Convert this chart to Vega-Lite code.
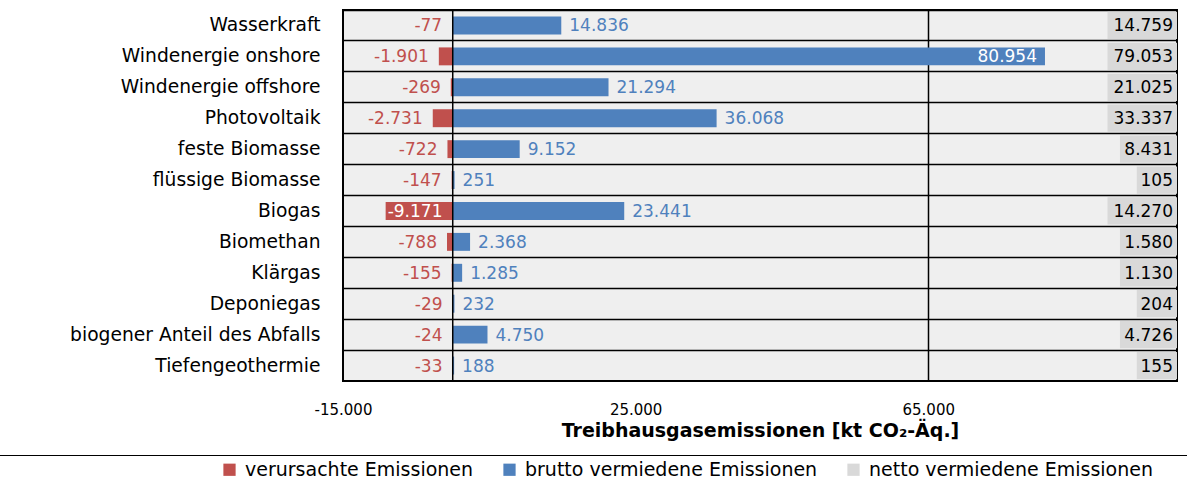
{
  "$schema": "https://vega.github.io/schema/vega-lite/v6.json",
  "autosize": "none",
  "width": 834,
  "height": 371,
  "padding": {"left": 343, "top": 10, "right": 10, "bottom": 101},
  "background": "white",
  "config": {
    "locale": {"number": {"decimal": ",", "thousands": ".", "grouping": [3], "currency": ["", " €"], "minus": "-"}},
    "view": {"stroke": "#000", "strokeWidth": 2, "fill": "#efefef"},
    "font": "DejaVu Sans",
    "legend": {
      "orient": "none",
      "legendX": -348,
      "legendY": 445,
      "direction": "horizontal",
      "titleOrient": "left",
      "titleOpacity": 0,
      "titleFontSize": 11,
      "titlePadding": 215,
      "padding": 5,
      "strokeColor": "#000",
      "symbolType": "square",
      "symbolSize": 150,
      "symbolStrokeWidth": 0,
      "labelFont": "DejaVu Sans",
      "labelFontSize": 19,
      "labelColor": "#000",
      "labelOffset": 6,
      "labelLimit": 600,
      "columnPadding": 26
    }
  },
  "data": {
    "values": [
      {"cat": "Wasserkraft", "verursacht": -77, "brutto": 14836, "netto": 14759},
      {"cat": "Windenergie onshore", "verursacht": -1901, "brutto": 80954, "netto": 79053},
      {"cat": "Windenergie offshore", "verursacht": -269, "brutto": 21294, "netto": 21025},
      {"cat": "Photovoltaik", "verursacht": -2731, "brutto": 36068, "netto": 33337},
      {"cat": "feste Biomasse", "verursacht": -722, "brutto": 9152, "netto": 8431},
      {"cat": "flüssige Biomasse", "verursacht": -147, "brutto": 251, "netto": 105},
      {"cat": "Biogas", "verursacht": -9171, "brutto": 23441, "netto": 14270},
      {"cat": "Biomethan", "verursacht": -788, "brutto": 2368, "netto": 1580},
      {"cat": "Klärgas", "verursacht": -155, "brutto": 1285, "netto": 1130},
      {"cat": "Deponiegas", "verursacht": -29, "brutto": 232, "netto": 204},
      {"cat": "biogener Anteil des Abfalls", "verursacht": -24, "brutto": 4750, "netto": 4726},
      {"cat": "Tiefengeothermie", "verursacht": -33, "brutto": 188, "netto": 155}
    ]
  },
  "layer": [
    {
      "transform": [{"filter": "datum.netto >= 10000"}],
      "mark": {"type": "bar", "height": {"band": 0.88}},
      "encoding": {
        "y": {"field": "cat", "type": "nominal", "sort": null,
          "scale": {"domain": ["Wasserkraft", "Windenergie onshore", "Windenergie offshore", "Photovoltaik", "feste Biomasse", "flüssige Biomasse", "Biogas", "Biomethan", "Klärgas", "Deponiegas", "biogener Anteil des Abfalls", "Tiefengeothermie"], "paddingInner": 0, "paddingOuter": 0},
          "axis": {"title": null, "ticks": false, "domain": false, "grid": true, "gridColor": "#000", "gridWidth": 1.5,
            "bandPosition": 0, "labelPadding": 23, "labelFont": "DejaVu Sans", "labelFontSize": 18.7, "labelColor": "#000", "labelLimit": 400}},
        "x": {"datum": 89500, "type": "quantitative",
          "scale": {"domain": [-15000, 99000], "nice": false, "zero": false},
          "axis": {"title": "Treibhausgasemissionen [kt CO₂-Äq.]", "values": [-15000, 25000, 65000], "format": ",d",
            "ticks": false, "domain": false, "labelFlush": false, "labelPadding": 21, "labelFont": "DejaVu Sans", "labelFontSize": 15, "labelColor": "#000",
            "grid": true, "gridColor": "#000", "gridWidth": 1.5,
            "gridOpacity": {"condition": {"test": "datum.value == 65000", "value": 1}, "value": 0},
            "titleFont": "DejaVu Sans", "titleFontWeight": "bold", "titleFontSize": 19, "titleColor": "#000", "titlePadding": 4}},
        "x2": {"datum": 99000},
        "color": {"datum": "netto vermiedene Emissionen",
          "scale": {"domain": ["verursachte Emissionen", "brutto vermiedene Emissionen", "netto vermiedene Emissionen", " "], "range": ["#c0504d", "#4f81bd", "#d9d9d9", "transparent"]},
          "legend": {"title": "."}}
      }
    },
    {
      "transform": [{"filter": "datum.netto >= 1000 && datum.netto < 10000"}],
      "mark": {"type": "bar", "height": {"band": 0.88}},
      "encoding": {
        "y": {"field": "cat", "type": "nominal", "sort": null},
        "x": {"datum": 91200, "type": "quantitative"},
        "x2": {"datum": 99000},
        "color": {"datum": "netto vermiedene Emissionen"}
      }
    },
    {
      "transform": [{"filter": "datum.netto < 1000"}],
      "mark": {"type": "bar", "height": {"band": 0.88}},
      "encoding": {
        "y": {"field": "cat", "type": "nominal", "sort": null},
        "x": {"datum": 93500, "type": "quantitative"},
        "x2": {"datum": 99000},
        "color": {"datum": "netto vermiedene Emissionen"}
      }
    },
    {
      "mark": {"type": "bar", "height": {"band": 0.58}},
      "encoding": {
        "y": {"field": "cat", "type": "nominal", "sort": null},
        "x": {"field": "verursacht", "type": "quantitative"},
        "x2": {"datum": 0},
        "color": {"datum": "verursachte Emissionen"}
      }
    },
    {
      "mark": {"type": "bar", "height": {"band": 0.58}},
      "encoding": {
        "y": {"field": "cat", "type": "nominal", "sort": null},
        "x": {"field": "brutto", "type": "quantitative"},
        "x2": {"datum": 0},
        "color": {"datum": "brutto vermiedene Emissionen"}
      }
    },
    {
      "data": {"values": [{}]},
      "mark": {"type": "rule", "color": "#000", "strokeWidth": 1.5},
      "encoding": {"x": {"datum": 0, "type": "quantitative"}}
    },
    {
      "transform": [{"filter": "datum.verursacht > -5000"}],
      "mark": {"type": "text", "align": "right", "baseline": "middle", "dx": -10, "dy": 1, "fontSize": 17, "color": "#c0504d"},
      "encoding": {
        "y": {"field": "cat", "type": "nominal", "sort": null},
        "x": {"field": "verursacht", "type": "quantitative"},
        "text": {"field": "verursacht", "type": "quantitative", "format": ",d"}
      }
    },
    {
      "transform": [{"filter": "datum.verursacht <= -5000"}],
      "mark": {"type": "text", "align": "left", "baseline": "middle", "dx": 2, "dy": 1, "fontSize": 17, "color": "#ffffff"},
      "encoding": {
        "y": {"field": "cat", "type": "nominal", "sort": null},
        "x": {"field": "verursacht", "type": "quantitative"},
        "text": {"field": "verursacht", "type": "quantitative", "format": ",d"}
      }
    },
    {
      "transform": [{"filter": "datum.brutto < 70000"}],
      "mark": {"type": "text", "align": "left", "baseline": "middle", "dx": 8, "dy": 1, "fontSize": 17, "color": "#4f81bd"},
      "encoding": {
        "y": {"field": "cat", "type": "nominal", "sort": null},
        "x": {"field": "brutto", "type": "quantitative"},
        "text": {"field": "brutto", "type": "quantitative", "format": ",d"}
      }
    },
    {
      "transform": [{"filter": "datum.brutto >= 70000"}],
      "mark": {"type": "text", "align": "right", "baseline": "middle", "dx": -8, "dy": 1, "fontSize": 17, "color": "#ffffff"},
      "encoding": {
        "y": {"field": "cat", "type": "nominal", "sort": null},
        "x": {"field": "brutto", "type": "quantitative"},
        "text": {"field": "brutto", "type": "quantitative", "format": ",d"}
      }
    },
    {
      "mark": {"type": "text", "align": "right", "baseline": "middle", "dx": -4, "dy": 1, "fontSize": 17, "color": "#000"},
      "encoding": {
        "y": {"field": "cat", "type": "nominal", "sort": null},
        "x": {"datum": 99000, "type": "quantitative"},
        "text": {"field": "netto", "type": "quantitative", "format": ",d"}
      }
    }
  ]
}
